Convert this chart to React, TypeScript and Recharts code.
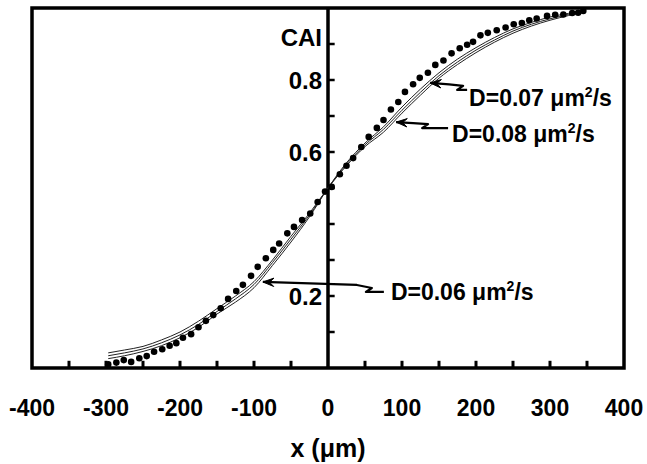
import React from 'react';
import {
  ComposedChart,
  Line,
  Scatter,
  XAxis,
  YAxis,
  ReferenceLine,
  ReferenceArea,
  Label,
} from 'recharts';

const FONT = '"Liberation Sans", Arial, Helvetica, sans-serif';

// ---- axes ----
const xTickLabels = [-400, -300, -200, -100, 0, 100, 200, 300, 400];
const xMinorTicks = [-350, -300, -250, -200, -150, -100, -50, 50, 100, 150, 200, 250, 300, 350];
const yMinorTicks = [0.1, 0.2, 0.3, 0.4, 0.5, 0.6, 0.7, 0.8, 0.9];
const yLabelValues = [0.2, 0.6, 0.8];
const yLabelTexts = ['0.2', '0.6', '0.8'];
const yTitle = 'CAI';
const yTitleValue = 0.918;
const xTitle = 'x (μm)';

// ---- measured CAI (dots) ----
const dotX = [
  -297, -286, -276, -266, -255, -245, -235, -224, -214, -205, -196, -185, -175, -165, -155, -145,
  -135, -124, -115, -104, -95, -84, -74, -66, -55, -46, -35, -24, -14, -4, 5, 16, 25, 34, 45, 55,
  66, 75, 85, 95, 104, 115, 124, 135, 145, 156, 167, 178, 188, 196, 206, 216, 228, 240, 251, 262,
  272, 282, 296, 307, 318, 330, 338, 345,
];
const dotY = [
  0.010, 0.015, 0.022, 0.017, 0.027, 0.033, 0.045, 0.052, 0.062, 0.069, 0.084, 0.094, 0.113, 0.131,
  0.147, 0.166, 0.192, 0.214, 0.231, 0.256, 0.281, 0.305, 0.328, 0.346, 0.374, 0.392, 0.411, 0.429,
  0.461, 0.490, 0.503, 0.538, 0.562, 0.583, 0.614, 0.642, 0.667, 0.689, 0.718, 0.739, 0.767, 0.788,
  0.806, 0.820, 0.842, 0.854, 0.874, 0.888, 0.898, 0.906, 0.924, 0.931, 0.938, 0.946, 0.955, 0.958,
  0.966, 0.971, 0.978, 0.981, 0.982, 0.986, 0.987, 0.992,
];

// ---- model curves ----
const modelX = [
  -297, -275, -250, -225, -200, -175, -150, -125, -100, -75, -50, -25, 0, 25, 50, 75, 100, 125, 150,
  175, 200, 225, 250, 275, 300, 325, 345,
];
const d06 = [
  0.026, 0.034, 0.046, 0.062, 0.084, 0.113, 0.150, 0.183, 0.223, 0.285, 0.350, 0.420, 0.500, 0.570,
  0.625, 0.670, 0.725, 0.775, 0.820, 0.858, 0.890, 0.918, 0.942, 0.960, 0.975, 0.985, 0.992,
];
const d07 = [
  0.034, 0.042, 0.053, 0.070, 0.092, 0.121, 0.157, 0.192, 0.232, 0.293, 0.358, 0.425, 0.500, 0.566,
  0.620, 0.663, 0.716, 0.766, 0.812, 0.850, 0.883, 0.911, 0.936, 0.955, 0.970, 0.982, 0.990,
];
const d08 = [
  0.042, 0.050, 0.060, 0.078, 0.100, 0.130, 0.165, 0.200, 0.240, 0.300, 0.366, 0.430, 0.500, 0.562,
  0.615, 0.655, 0.708, 0.758, 0.805, 0.843, 0.876, 0.905, 0.930, 0.950, 0.966, 0.979, 0.988,
];

// ---- annotations (arrow tip in data coords) ----
const annoKeys = ['0.07', '0.08', '0.06'];
const annoTipX = [138, 92, -88];
const annoTipY = [0.792, 0.683, 0.239];

// style: arrow path offsets (px, relative to tip) and text offset
const ANNO_STYLE: Record<string, { path: number[][]; tx: number; ty: number }> = {
  '0.07': { path: [[37, 7], [27, 7], [33, 3], [19, 1.5]], tx: 39, ty: 23 },
  '0.08': { path: [[52, 6], [26, 6], [32, 2], [17, 1]], tx: 56, ty: 20 },
  '0.06': { path: [[121, 10], [103, 10], [109, 6], [94, 3]], tx: 128, ty: 18 },
};

const dots = dotX.map((x, i) => ({ x, y: dotY[i] }));
const m06 = modelX.map((x, i) => ({ x, y: d06[i] }));
const m07 = modelX.map((x, i) => ({ x, y: d07[i] }));
const m08 = modelX.map((x, i) => ({ x, y: d08[i] }));
const yLabels = yLabelValues.map((y, i) => ({ x: 0, y, label: yLabelTexts[i] }));
const yTitleData = [{ x: 0, y: yTitleValue, label: yTitle }];
const annos = annoKeys.map((k, i) => ({ x: annoTipX[i], y: annoTipY[i], label: k }));

const Dot = (p: any) => <circle cx={p.cx} cy={p.cy} r={3.3} fill="#000" />;

const YLab = (p: any) => (
  <text
    x={p.cx - 6}
    y={p.cy}
    textAnchor="end"
    dominantBaseline="central"
    fontFamily={FONT}
    fontWeight={700}
    fontSize={24}
    fill="#000"
  >
    {p.payload.label}
  </text>
);

const Anno = (p: any) => {
  const { cx, cy, payload } = p;
  const st = ANNO_STYLE[payload.label];
  const pts = st.path.map(([dx, dy]) => [cx + dx, cy + dy]);
  pts.push([cx, cy]);
  const d = pts.map((q, i) => (i ? 'L' : 'M') + q[0] + ',' + q[1]).join(' ');
  const [px, py] = pts[pts.length - 2];
  const ang = Math.atan2(py - cy, px - cx);
  const L = 11;
  const W = 4.2;
  const c = Math.cos(ang);
  const s = Math.sin(ang);
  const bx = cx + L * c;
  const by = cy + L * s;
  const nx = -s;
  const ny = c;
  const mx = cx + L * 0.6 * c;
  const my = cy + L * 0.6 * s;
  const head = `${cx},${cy} ${bx + nx * W},${by + ny * W} ${mx},${my} ${bx - nx * W},${by - ny * W}`;
  return (
    <g>
      <path d={d} fill="none" stroke="#000" strokeWidth={2.2} strokeLinejoin="round" />
      <polygon points={head} fill="#000" stroke="#000" strokeWidth={1} strokeLinejoin="round" />
      <text
        x={cx + st.tx}
        y={cy + st.ty}
        fontFamily={FONT}
        fontWeight={700}
        fontSize={23}
        fill="#000"
      >
        {'D=' + payload.label + ' μm'}
        <tspan dy={-9} fontSize={14}>
          2
        </tspan>
        <tspan dy={9} fontSize={23}>
          /s
        </tspan>
      </text>
    </g>
  );
};

export default function App() {
  return (
    <div style={{ position: 'absolute', left: 0, top: 0, background: '#fff' }}>
      <ComposedChart
        width={647}
        height={464}
        margin={{ top: 8, right: 23, left: 32, bottom: 0 }}
      >
        <XAxis
          dataKey="x"
          type="number"
          domain={[-400, 400]}
          ticks={xTickLabels}
          interval={0}
          axisLine={false}
          tickLine={false}
          tickSize={0}
          tickMargin={32}
          height={96}
          tick={{ fontSize: 23, fontWeight: 700, fill: '#000', fontFamily: FONT }}
        >
          <Label
            value={xTitle}
            position="insideBottom"
            offset={7}
            fontSize={25}
            fontWeight={700}
            fill="#000"
            fontFamily={FONT}
          />
        </XAxis>
        <YAxis type="number" dataKey="y" domain={[0, 1]} hide />

        {xMinorTicks.map((t) => (
          <ReferenceLine
            key={'xt' + t}
            segment={[{ x: t, y: 0 }, { x: t, y: 0.02 }]}
            stroke="#000"
            strokeWidth={3}
            ifOverflow="visible"
          />
        ))}
        {yMinorTicks.map((t) => (
          <ReferenceLine
            key={'yt' + t}
            segment={[{ x: 0, y: t }, { x: 9, y: t }]}
            stroke="#000"
            strokeWidth={2.5}
            ifOverflow="visible"
          />
        ))}
        <ReferenceLine x={0} stroke="#000" strokeWidth={3.5} ifOverflow="visible" />
        <ReferenceArea
          x1={-400}
          x2={400}
          y1={0}
          y2={1}
          fill="none"
          fillOpacity={0}
          stroke="#000"
          strokeWidth={3.5}
          strokeOpacity={1}
          ifOverflow="visible"
        />

        <Line data={m08} dataKey="y" type="monotone" stroke="#222" strokeWidth={1} dot={false} isAnimationActive={false} />
        <Line data={m07} dataKey="y" type="monotone" stroke="#222" strokeWidth={1} dot={false} isAnimationActive={false} />
        <Line data={m06} dataKey="y" type="monotone" stroke="#222" strokeWidth={1} dot={false} isAnimationActive={false} />
        <Scatter data={dots} dataKey="y" shape={Dot} isAnimationActive={false} />
        <Scatter data={yLabels} dataKey="y" shape={YLab} isAnimationActive={false} />
        <Scatter data={yTitleData} dataKey="y" shape={YLab} isAnimationActive={false} />
        <Scatter data={annos} dataKey="y" shape={Anno} isAnimationActive={false} />
      </ComposedChart>
    </div>
  );
}
